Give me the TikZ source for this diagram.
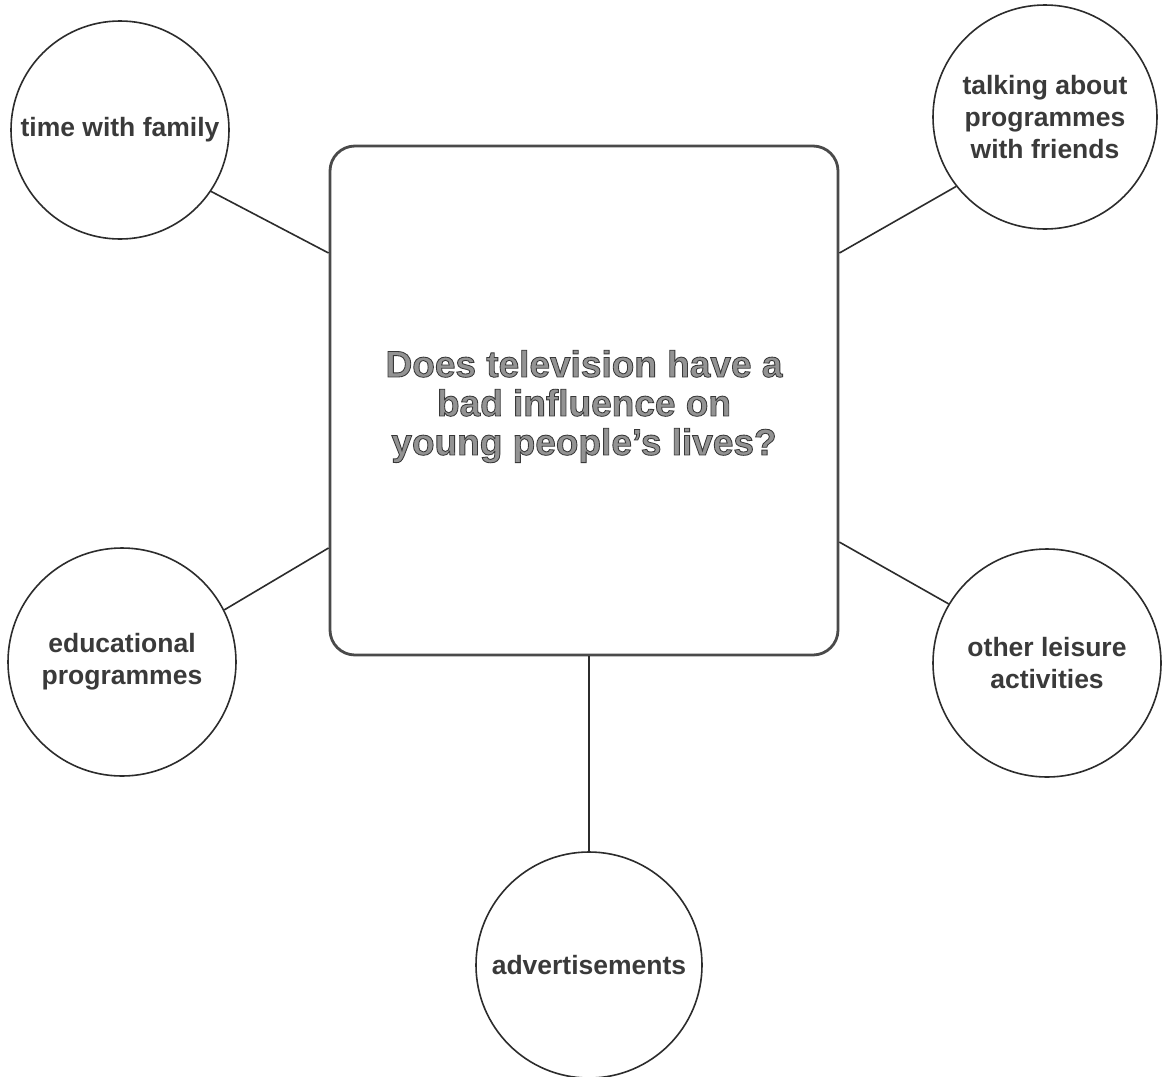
\documentclass[tikz,border=0pt]{standalone}
\usepackage{fontspec}
\setmainfont{Liberation Sans}
\definecolor{ink}{HTML}{2C2C2C}
\definecolor{labelgrey}{HTML}{3A3A3A}
\definecolor{boxline}{HTML}{4A4A4A}
\definecolor{qfill}{HTML}{939393}

% hollow-style lettering: fill in mid grey, stroke the glyph outlines darker
\newcommand\hollowline[1]{{\color{qfill}\special{pdf:literal direct 2 Tr 0.85 w 0.22 G}#1\special{pdf:literal direct 0 Tr}}}

\tikzset{
  topic/.style={circle, draw=ink, line width=1.6pt, inner sep=0pt, align=center,
    text=labelgrey, font=\bfseries\fontsize{26.5}{32}\selectfont},
  question/.style={rectangle, draw=boxline, line width=2.8pt, rounded corners=25pt,
    inner sep=0pt, minimum width=508pt, minimum height=509pt},
  qtext/.style={align=center, inner sep=0pt, font=\bfseries\fontsize{37}{39}\selectfont},
  link/.style={draw=ink, line width=1.6pt}
}

\begin{document}
\begin{tikzpicture}[x=1pt, y=-1pt]
  \fill[white] (0,0) rectangle (1167,1076);
  \useasboundingbox (0,0) rectangle (1167,1076);

  % central question
  \node[question] (box) at (584,400.5) {};
  \node[qtext] (q) at ([yshift=-6pt]box.center)
    {\hollowline{Does television have a}\\
     \hollowline{bad influence on}\\
     \hollowline{young people’s lives?}};

  % surrounding topics
  \node[topic, minimum size=218pt] (tl) at (120,130) {time with family};
  \node[topic, minimum size=224pt] (tr) at (1045,117) {talking about\\programmes\\with friends};
  \node[topic, minimum size=228pt] (bl) at (122,662) {educational\\programmes};
  \node[topic, minimum size=228pt] (br) at (1047,663) {other leisure\\activities};
  \node[topic, minimum size=226pt] (ad) at (589,965) {advertisements};

  % connectors
  \draw[link] (tl.326) -- (box.150);
  \draw[link] (tr.218) -- (box.30);
  \draw[link] (bl.27.5) -- (box.210);
  \draw[link] (br.149) -- (box.-29.3);
  \draw[link] (ad.north) -- (ad.north |- box.south);
\end{tikzpicture}
\end{document}
